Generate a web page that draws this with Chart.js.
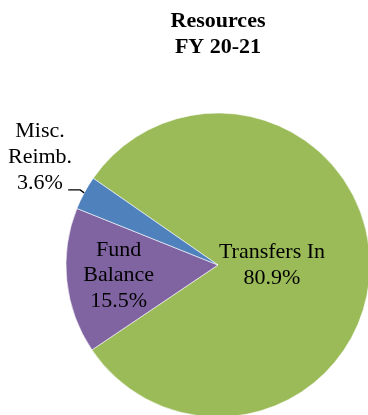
<!DOCTYPE html>
<html>
<head>
<meta charset="utf-8">
<title>Resources FY 20-21</title>
<script src="https://cdn.jsdelivr.net/npm/chart.js@4/dist/chart.umd.min.js"></script>
<style>
  html, body { margin: 0; padding: 0; background: #ffffff; overflow: hidden; }
  canvas { display: block; }
</style>
</head>
<body>
<canvas id="chart" width="374" height="422"></canvas>
<script>
// Resource shares, percent of total
const categories = ['Transfers In', 'Fund Balance', 'Misc. Reimb.'];
const shares = [80.9, 15.5, 3.6];
// Category names broken into display lines
const labelLines = [['Transfers In'], ['Fund', 'Balance'], ['Misc.', 'Reimb.']];
const titleLines = ['Resources', 'FY 20-21'];

const sliceColors = ['#9BBB59', '#8064A2', '#4F81BD'];

// Where each label sits: fraction of the radius along the slice's mid-angle, plus a nudge
const labelPlacement = [
  { f: 0.355, dx: 0, dy: 0, leader: false },
  { f: 0.657, dx: 0, dy: 0, leader: false },
  { f: 1.33, dx: 0, dy: -12, leader: true }
];

const LABEL_FONT = '22px "Liberation Serif", "Times New Roman", serif';
const LABEL_LINE = 25.7;

const sliceLabels = {
  id: 'sliceLabels',
  afterDatasetsDraw(chart) {
    const ctx = chart.ctx;
    const meta = chart.getDatasetMeta(0);
    ctx.save();
    ctx.font = LABEL_FONT;
    ctx.fillStyle = '#000000';
    ctx.strokeStyle = '#000000';
    ctx.textAlign = 'center';
    ctx.textBaseline = 'middle';
    meta.data.forEach((arc, i) => {
      const p = arc.getProps(['x', 'y', 'startAngle', 'endAngle', 'outerRadius'], true);
      const mid = (p.startAngle + p.endAngle) / 2;
      const place = labelPlacement[i];
      const cx = p.x + Math.cos(mid) * p.outerRadius * place.f + place.dx;
      const cy = p.y + Math.sin(mid) * p.outerRadius * place.f + place.dy;
      const lines = labelLines[i].concat([shares[i].toFixed(1) + '%']);
      const y0 = cy - (lines.length - 1) / 2 * LABEL_LINE;
      lines.forEach((t, k) => ctx.fillText(t, cx, y0 + k * LABEL_LINE));
      if (place.leader) {
        const ex = p.x + Math.cos(mid) * p.outerRadius;
        const ey = p.y + Math.sin(mid) * p.outerRadius;
        ctx.lineWidth = 1.3;
        ctx.beginPath();
        ctx.moveTo(ex, ey);
        ctx.lineTo(ex - 4, ey - 3);
        ctx.lineTo(ex - 16, ey - 3);
        ctx.stroke();
      }
    });
    ctx.restore();
  }
};

new Chart(document.getElementById('chart'), {
  type: 'pie',
  data: {
    labels: categories,
    datasets: [{
      data: shares,
      backgroundColor: sliceColors,
      borderColor: '#ffffff',
      borderWidth: 0.6
    }]
  },
  options: {
    responsive: false,
    animation: false,
    rotation: -55.2,
    radius: 152,
    layout: { padding: { left: 64, right: 2, top: 0, bottom: 3 } },
    plugins: {
      legend: { display: false },
      tooltip: { enabled: false },
      title: {
        display: true,
        text: titleLines,
        color: '#000000',
        font: { family: '"Liberation Serif", "Times New Roman", serif', size: 22, weight: 'bold', lineHeight: 26 / 22 },
        padding: { top: 8.6, bottom: 50.4 }
      }
    }
  },
  plugins: [sliceLabels]
});
</script>
</body>
</html>
